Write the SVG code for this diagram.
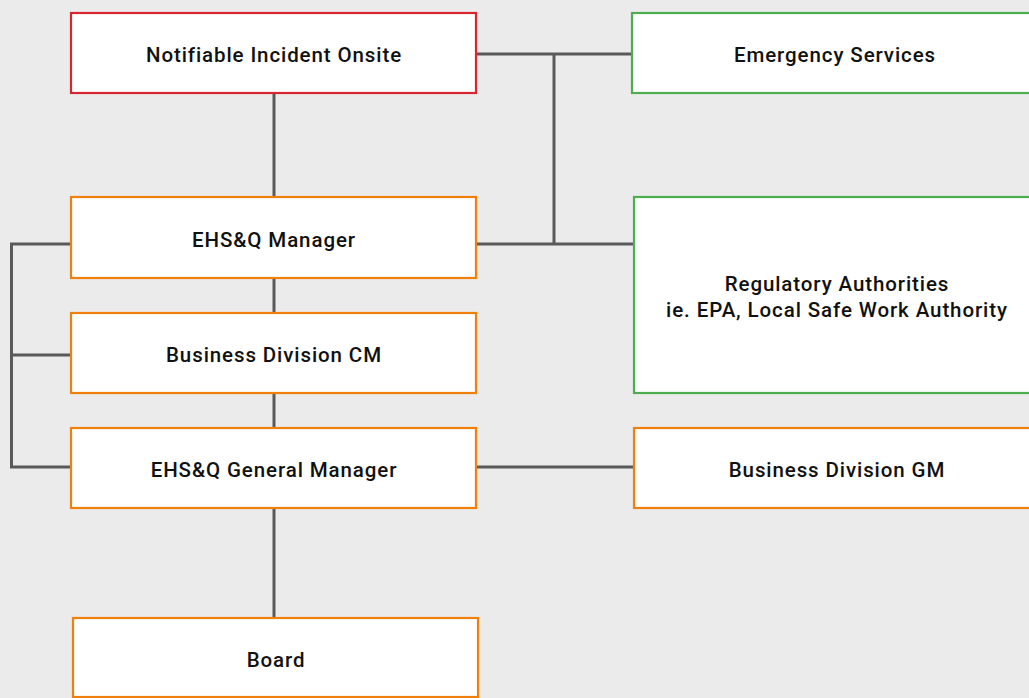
<svg xmlns="http://www.w3.org/2000/svg" width="1029" height="698" viewBox="0 0 1029 698">
<style>
.bg{fill:#ebebeb}
.box{fill:#ffffff;stroke-width:2.2}
.red{stroke:#d9252f}
.orange{stroke:#f07f0b}
.green{stroke:#4cae4f}
.lbl{font-family:Roboto,"Liberation Sans",sans-serif;font-size:20.5px;font-weight:500;fill:#111111;text-anchor:middle;letter-spacing:0.9px}
.conn{stroke:#58595b;stroke-width:3;fill:none}
</style>
<rect class="bg" x="0" y="0" width="1029" height="698"/>
<g id="connectors">
<line class="conn" x1="274" y1="93" x2="274" y2="197"/>
<line class="conn" x1="274" y1="278" x2="274" y2="313"/>
<line class="conn" x1="274" y1="393" x2="274" y2="428"/>
<line class="conn" x1="274" y1="508" x2="274" y2="618"/>
<line class="conn" x1="476" y1="54" x2="632" y2="54"/>
<line class="conn" x1="554" y1="54" x2="554" y2="244"/>
<line class="conn" x1="476" y1="244" x2="634" y2="244"/>
<line class="conn" x1="476" y1="467" x2="634" y2="467"/>
<polyline class="conn" points="71,244 11.5,244 11.5,467 71,467"/>
<line class="conn" x1="11.5" y1="355" x2="71" y2="355"/>
</g>
<g id="notifiable">
<rect class="box red" x="71" y="13" width="405" height="80"/>
<text class="lbl" x="274" y="62">Notifiable Incident Onsite</text>
</g>
<g id="emergency">
<rect class="box green" x="632" y="13" width="405" height="80"/>
<text class="lbl" x="835" y="62">Emergency Services</text>
</g>
<g id="ehsq-manager">
<rect class="box orange" x="71" y="197" width="405" height="81"/>
<text class="lbl" x="274" y="247">EHS&amp;Q Manager</text>
</g>
<g id="regulatory">
<rect class="box green" x="634" y="197" width="405" height="196"/>
<text class="lbl" x="837" y="291">Regulatory Authorities</text>
<text class="lbl" x="837" y="317">ie. EPA, Local Safe Work Authority</text>
</g>
<g id="business-cm">
<rect class="box orange" x="71" y="313" width="405" height="80"/>
<text class="lbl" x="274" y="362">Business Division CM</text>
</g>
<g id="ehsq-gm">
<rect class="box orange" x="71" y="428" width="405" height="80"/>
<text class="lbl" x="274" y="477">EHS&amp;Q General Manager</text>
</g>
<g id="business-gm">
<rect class="box orange" x="634" y="428" width="405" height="80"/>
<text class="lbl" x="837" y="477">Business Division GM</text>
</g>
<g id="board">
<rect class="box orange" x="73" y="618" width="405" height="79"/>
<text class="lbl" x="276" y="667">Board</text>
</g>
</svg>
